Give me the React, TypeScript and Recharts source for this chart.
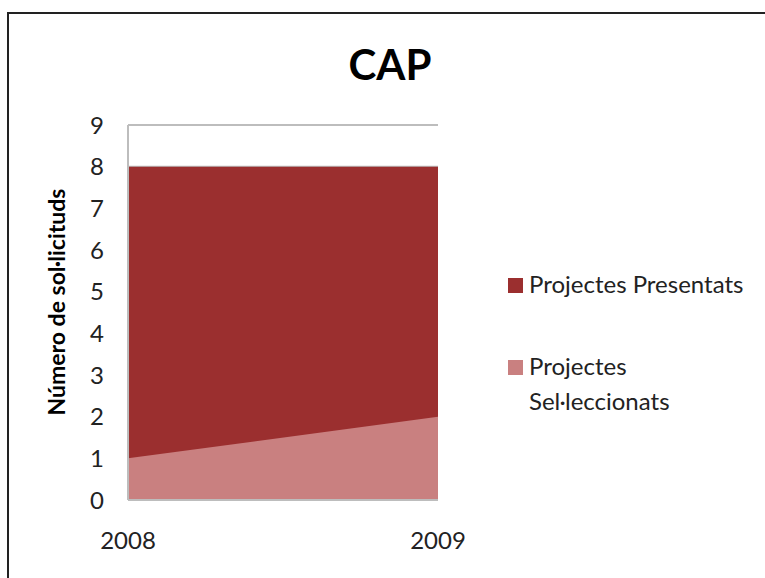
import { Area, AreaChart, CartesianGrid, XAxis, YAxis } from "recharts";

const YEARS = ["2008", "2009"];
const PRESENTATS = [8, 8];
const SELECCIONATS = [1, 2];
const Y_TICKS = [0, 1, 2, 3, 4, 5, 6, 7, 8, 9];
const SERIES_NAMES = ["Projectes Presentats", "Projectes Sel·leccionats"];

const DARK = "#9B2F2F";
const LIGHT = "#C98080";
const FONT = "Lato, 'Open Sans', sans-serif";

const data = YEARS.map((year, i) => ({
  year,
  presentats: PRESENTATS[i],
  seleccionats: SELECCIONATS[i],
}));

const TICK = { fill: "#222", fontSize: 24, fontFamily: FONT } as const;

// legend drawn as plain html so it doesn't eat into the plot area
const LEGEND = [
  { lines: [SERIES_NAMES[0]], color: DARK, top: 266 },
  { lines: ["Projectes", "Sel·leccionats"], color: LIGHT, top: 348 },
];

export default function App() {
  return (
    <div
      style={{
        position: "absolute",
        left: 0,
        top: 0,
        width: 765,
        height: 578,
        background: "#fff",
        overflow: "hidden",
      }}
    >
      <div
        style={{
          position: "absolute",
          left: 7,
          top: 12,
          width: 800,
          height: 600,
          borderTop: "2px solid #222",
          borderLeft: "2px solid #222",
        }}
      />
      <div
        style={{
          position: "absolute",
          left: 290,
          top: 39,
          width: 200,
          textAlign: "center",
          fontFamily: FONT,
          fontWeight: 700,
          fontSize: 42,
          color: "#000",
        }}
      >
        CAP
      </div>
      <div
        style={{
          position: "absolute",
          left: 56,
          top: 302,
          transform: "translate(-50%, -50%) rotate(-90deg)",
          whiteSpace: "nowrap",
          fontFamily: FONT,
          fontWeight: 700,
          fontSize: 23,
          color: "#000",
        }}
      >
        Número de sol·licituds
      </div>
      <AreaChart
        width={765}
        height={578}
        data={data}
        margin={{ top: 125, right: 327, left: 88, bottom: 0 }}
        style={{ position: "absolute", left: 0, top: 0 }}
      >
        <CartesianGrid vertical={false} stroke="#bdbdbd" strokeWidth={2} />
        <XAxis
          dataKey="year"
          height={78}
          tickLine={false}
          axisLine={{ stroke: "#bdbdbd", strokeWidth: 2 }}
          tick={TICK}
          tickMargin={26}
        />
        <YAxis
          domain={[0, 9]}
          ticks={Y_TICKS}
          width={40}
          tickLine={false}
          axisLine={{ stroke: "#bdbdbd", strokeWidth: 2 }}
          tick={{ ...TICK, textAnchor: "end" }}
          tickMargin={18}
          interval={0}
        />
        <Area
          type="linear"
          dataKey="presentats"
          name={SERIES_NAMES[0]}
          fill={DARK}
          fillOpacity={1}
          stroke="none"
          isAnimationActive={false}
          dot={false}
          activeDot={false}
        />
        <Area
          type="linear"
          dataKey="seleccionats"
          name={SERIES_NAMES[1]}
          fill={LIGHT}
          fillOpacity={1}
          stroke="none"
          isAnimationActive={false}
          dot={false}
          activeDot={false}
        />
      </AreaChart>
      {LEGEND.map((item) => (
        <div
          key={item.color}
          style={{
            position: "absolute",
            left: 508,
            top: item.top,
            display: "flex",
            alignItems: "flex-start",
            fontFamily: FONT,
            fontSize: 24,
            lineHeight: "35px",
            color: "#222",
          }}
        >
          <span
            style={{
              width: 15,
              height: 15,
              background: item.color,
              marginTop: 12,
              marginRight: 6,
              flexShrink: 0,
            }}
          />
          <span style={{ whiteSpace: "nowrap" }}>
            {item.lines.map((line) => (
              <div key={line}>{line}</div>
            ))}
          </span>
        </div>
      ))}
    </div>
  );
}
